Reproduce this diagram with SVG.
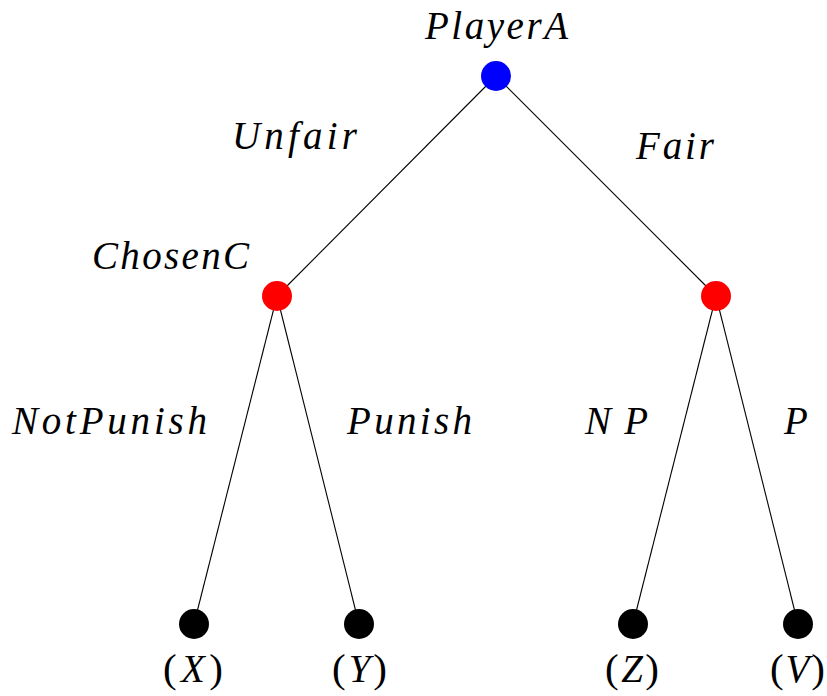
<svg xmlns="http://www.w3.org/2000/svg" width="827" height="696" viewBox="0 0 827 696">
<style>
text{font-family:"Liberation Serif","DejaVu Serif",serif;font-style:italic;font-size:39px;fill:#000}
.up{font-style:normal;font-size:41px}
.edge{stroke:#000;stroke-width:1.1;fill:none}
</style>
<rect width="827" height="696" fill="#fff"/>
<g id="connectors">
<line class="edge" x1="496" y1="76" x2="277" y2="296"/>
<line class="edge" x1="496" y1="76" x2="716" y2="296"/>
<line class="edge" x1="277" y1="296" x2="194" y2="624"/>
<line class="edge" x1="277" y1="296" x2="359" y2="624"/>
<line class="edge" x1="716" y1="296" x2="633" y2="624"/>
<line class="edge" x1="716" y1="296" x2="798" y2="624"/>
</g>
<g id="edge-labels">
<text x="232" y="149" textLength="125" lengthAdjust="spacing">Unfair</text>
<text x="636" y="159" textLength="78" lengthAdjust="spacing">Fair</text>
<text x="12" y="434" textLength="195" lengthAdjust="spacing">NotPunish</text>
<text x="347" y="434" textLength="125" lengthAdjust="spacing">Punish</text>
<text x="585" y="434" textLength="63" lengthAdjust="spacing">NP</text>
<text x="784" y="434" textLength="28" lengthAdjust="spacing">P</text>
</g>
<g id="nodeA">
<circle cx="496" cy="76" r="15" fill="#0000ff"/>
<text x="425" y="39" textLength="143" lengthAdjust="spacing">PlayerA</text>
</g>
<g id="nodeC1">
<circle cx="277" cy="296" r="15" fill="#ff0000"/>
<text x="92" y="269" textLength="157" lengthAdjust="spacing">ChosenC</text>
</g>
<g id="nodeC2">
<circle cx="716" cy="296" r="15" fill="#ff0000"/>
</g>
<g id="leafX">
<circle cx="194" cy="624" r="15" fill="#000"/>
<text x="163" y="682" textLength="60" lengthAdjust="spacing"><tspan class="up">(</tspan>X<tspan class="up">)</tspan></text>
</g>
<g id="leafY">
<circle cx="359" cy="624" r="15" fill="#000"/>
<text x="332" y="682" textLength="55" lengthAdjust="spacing"><tspan class="up">(</tspan>Y<tspan class="up">)</tspan></text>
</g>
<g id="leafZ">
<circle cx="633" cy="624" r="15" fill="#000"/>
<text x="605" y="682" textLength="54" lengthAdjust="spacing"><tspan class="up">(</tspan>Z<tspan class="up">)</tspan></text>
</g>
<g id="leafV">
<circle cx="798" cy="624" r="15" fill="#000"/>
<text x="770" y="682" textLength="55" lengthAdjust="spacing"><tspan class="up">(</tspan>V<tspan class="up">)</tspan></text>
</g>
</svg>
